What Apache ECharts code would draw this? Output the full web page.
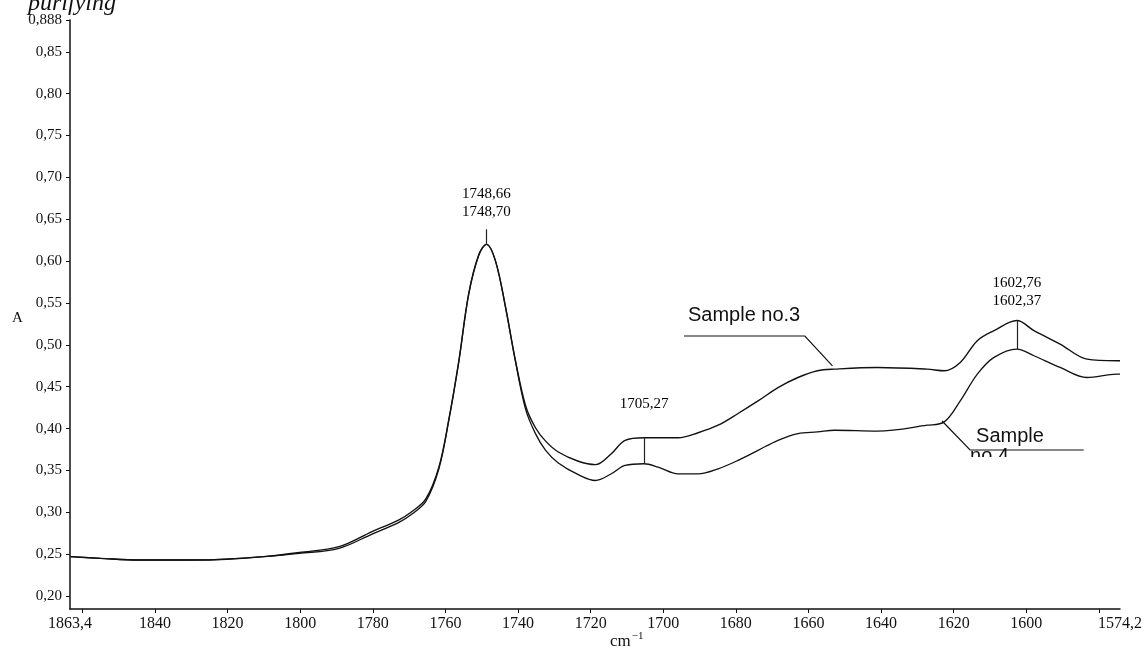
<!DOCTYPE html>
<html>
<head>
<meta charset="utf-8">
<script src="https://cdn.jsdelivr.net/npm/echarts@6/dist/echarts.min.js"></script>
<style>
html,body{margin:0;padding:0;background:#fff;}
#chart{width:1145px;height:650px;}
</style>
</head>
<body>
<div id="chart"></div>
<script>
// ---- data ----
const wavenumbers = [1863.4, 1855, 1844.2, 1830, 1820.3, 1810, 1800.2, 1789.3, 1780.2, 1772.8, 1769.2, 1765.4, 1761.8, 1759.1, 1756.3, 1753.6, 1750.8, 1748.7, 1746.2, 1743.4, 1740.7, 1737.9, 1735.2, 1732.4, 1728.9, 1723.4, 1718.7, 1714.3, 1710.5, 1705.3, 1701.4, 1695.9, 1690.4, 1684.9, 1679.4, 1673.9, 1668.4, 1662.9, 1657.5, 1652.8, 1641.0, 1627.3, 1622.6, 1618.2, 1613.5, 1608.9, 1602.6, 1597.9, 1590.7, 1583.3, 1575.1, 1574.2];
const sample3 = [0.247, 0.245, 0.243, 0.243, 0.244, 0.247, 0.252, 0.259, 0.277, 0.291, 0.301, 0.316, 0.354, 0.410, 0.481, 0.561, 0.608, 0.620, 0.600, 0.544, 0.481, 0.427, 0.401, 0.385, 0.372, 0.361, 0.357, 0.370, 0.386, 0.389, 0.389, 0.389, 0.395, 0.404, 0.418, 0.433, 0.449, 0.461, 0.469, 0.471, 0.473, 0.471, 0.469, 0.479, 0.505, 0.517, 0.529, 0.517, 0.501, 0.483, 0.481, 0.481];
const sample4 = [0.247, 0.245, 0.243, 0.243, 0.244, 0.247, 0.251, 0.257, 0.274, 0.288, 0.298, 0.313, 0.352, 0.409, 0.480, 0.560, 0.607, 0.620, 0.600, 0.544, 0.480, 0.423, 0.394, 0.374, 0.359, 0.345, 0.338, 0.346, 0.356, 0.358, 0.354, 0.346, 0.346, 0.352, 0.362, 0.374, 0.386, 0.394, 0.396, 0.398, 0.397, 0.404, 0.408, 0.433, 0.465, 0.485, 0.495, 0.487, 0.473, 0.461, 0.465, 0.465];

const xTickValues = [1860, 1840, 1820, 1800, 1780, 1760, 1740, 1720, 1700, 1680, 1660, 1640, 1620, 1600, 1580];
const xLabelValues = [1863.4, 1840, 1820, 1800, 1780, 1760, 1740, 1720, 1700, 1680, 1660, 1640, 1620, 1600, 1574.2];
const yLabelValues = [0.20, 0.25, 0.30, 0.35, 0.40, 0.45, 0.50, 0.55, 0.60, 0.65, 0.70, 0.75, 0.80, 0.85, 0.888];

// peak markers: x, lower value, upper value
const markerX = [1748.7, 1705.3, 1602.6];
const markerLow = [0.620, 0.358, 0.495];
const markerHigh = [0.638, 0.389, 0.529];
// peak labels: anchor (bottom of text) and text
const peakLabelX = [1748.7, 1705.3, 1602.6];
const peakLabelY = [0.648, 0.418, 0.542];
const peakLabelText = ['1748,66\n1748,70', '1705,27', '1602,76\n1602,37'];

// legend call-outs (data coordinates)
const leader3 = [[1694.3, 0.5106], [1661.0, 0.5106], [1653.4, 0.4748]];
const leader4 = [[1623.2, 0.409], [1615.5, 0.3744], [1584.2, 0.3744]];

const fmtDec = v => (Math.abs(v - 0.888) < 1e-6 ? '0,888' : v.toFixed(2).replace('.', ','));
const fmtWn = v => String(v).replace('.', ',');

const serif = '"Liberation Serif", "Times New Roman", serif';
const sans = '"Liberation Sans", Arial, sans-serif';
const ink = '#111111';

const chart = echarts.init(document.getElementById('chart'), null, {renderer: 'canvas'});

const option = {
  animation: false,
  backgroundColor: '#ffffff',
  grid: {left: 70, right: 22, top: 20, bottom: 41, containLabel: false},
  xAxis: {
    type: 'value',
    inverse: true,
    min: 1574.2,
    max: 1863.4,
    axisLine: {show: true, onZero: false, lineStyle: {color: '#111', width: 1.5}},
    axisTick: {show: true, inside: false, length: 4, customValues: xTickValues, lineStyle: {color: '#111', width: 1}},
    axisLabel: {show: true, customValues: xLabelValues, formatter: fmtWn, margin: 7,
      fontFamily: serif, fontSize: 16, color: ink, showMinLabel: true, showMaxLabel: true},
    splitLine: {show: false}
  },
  yAxis: {
    type: 'value',
    min: 0.1845,
    max: 0.888,
    axisLine: {show: true, onZero: false, lineStyle: {color: '#111', width: 1.5}},
    axisTick: {show: true, inside: false, length: 4, customValues: yLabelValues, lineStyle: {color: '#111', width: 1}},
    axisLabel: {show: true, customValues: yLabelValues, formatter: fmtDec, margin: 8,
      fontFamily: serif, fontSize: 15, color: ink},
    splitLine: {show: false}
  },
  series: [
    {
      name: 'Sample no.3',
      type: 'line',
      data: wavenumbers.map((x, i) => [x, sample3[i]]),
      showSymbol: false,
      smooth: 0.35,
      lineStyle: {color: '#111', width: 1.4},
      markLine: {
        silent: true,
        symbol: ['none', 'none'],
        label: {show: false},
        lineStyle: {color: '#222', width: 1.2, type: 'solid'},
        data: markerX.map((x, i) => [{coord: [x, markerLow[i]]}, {coord: [x, markerHigh[i]]}])
      }
    },
    {
      name: 'Sample no.4',
      type: 'line',
      data: wavenumbers.map((x, i) => [x, sample4[i]]),
      showSymbol: false,
      smooth: 0.35,
      lineStyle: {color: '#111', width: 1.3}
    },
    {
      name: 'peak labels',
      type: 'scatter',
      symbolSize: 0,
      silent: true,
      itemStyle: {color: '#000', opacity: 1},
      data: peakLabelX.map((x, i) => [x, peakLabelY[i]]),
      label: {
        show: true,
        position: 'top',
        distance: 0,
        formatter: p => peakLabelText[p.dataIndex],
        fontFamily: serif,
        fontSize: 15,
        lineHeight: 18,
        color: '#000',
        opacity: 1,
        align: 'center'
      }
    }
  ]
};
chart.setOption(option);

const px = p => chart.convertToPixel({gridIndex: 0}, p);
const l3 = leader3.map(px);
const l4 = leader4.map(px);

chart.setOption({
  graphic: [
    {type: 'text', left: 28, top: -8, style: {text: 'purifying', font: 'italic 24px ' + serif, fill: ink}},
    {type: 'text', x: 12, y: 318, style: {text: 'A', font: '15px ' + serif, fill: ink, verticalAlign: 'middle'}},
    {type: 'text', x: 610, y: 631, style: {
      text: '{a|cm}{b|−1}',
      rich: {a: {fontSize: 17, fontFamily: serif, fill: ink, verticalAlign: 'bottom'},
             b: {fontSize: 11, fontFamily: serif, fill: ink, verticalAlign: 'top', padding: [0, 0, 8, 1]}},
      fill: ink, verticalAlign: 'top'}},
    {type: 'polyline', shape: {points: l3}, style: {stroke: '#111', lineWidth: 1.2, fill: null}, silent: true},
    {type: 'polyline', shape: {points: l4}, style: {stroke: '#111', lineWidth: 1.2, fill: null}, silent: true},
    {type: 'text', x: l3[0][0] + 4, y: l3[0][1] - 20, style: {text: 'Sample no.3', font: '20px ' + sans, fill: ink, verticalAlign: 'middle'}},
    {type: 'text', x: l4[1][0] + 6, y: l4[1][1] - 14, style: {text: 'Sample', font: '20px ' + sans, fill: ink, verticalAlign: 'middle'}},
    {type: 'text', x: l4[1][0], y: l4[1][1] + 6, style: {text: 'no.4', font: '20px ' + sans, fill: ink, verticalAlign: 'middle'}, z: 10},
    {type: 'rect', shape: {x: l4[1][0] - 5, y: l4[1][1] + 7, width: 140, height: 30}, style: {fill: '#ffffff'}, z: 11, silent: true}
  ]
});
</script>
</body>
</html>
